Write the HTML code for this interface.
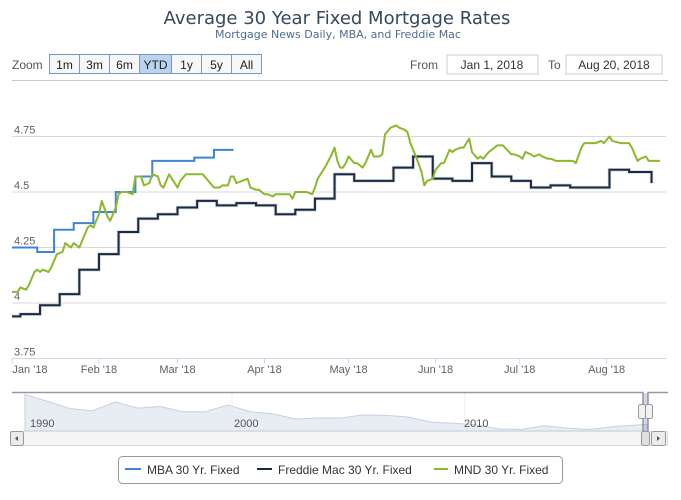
<!DOCTYPE html>
<html><head><meta charset="utf-8"><style>
body{margin:0;background:#fff;font-family:"Liberation Sans",sans-serif;}
svg text{font-family:"Liberation Sans",sans-serif;}
</style></head><body>
<svg id="c" width="681" height="495" xmlns="http://www.w3.org/2000/svg">
<rect width="681" height="495" fill="#fff"/>
<text x="337" y="24" text-anchor="middle" font-size="18" fill="#34495e" style="font-family:'DejaVu Sans',sans-serif">Average 30 Year Fixed Mortgage Rates</text>
<text x="338" y="38" text-anchor="middle" font-size="11" fill="#4d6d8d" style="font-family:'DejaVu Sans',sans-serif">Mortgage News Daily, MBA, and Freddie Mac</text>
<text x="12" y="69" font-size="12" fill="#555">Zoom</text>
<g id="btns"></g>
<text x="410" y="69" font-size="12" fill="#555">From</text>
<rect x="447" y="55" width="91" height="19" fill="#fff" stroke="#ccc"/>
<text x="492" y="69" text-anchor="middle" font-size="12" fill="#333">Jan 1, 2018</text>
<text x="548" y="69" font-size="12" fill="#555">To</text>
<rect x="566" y="55" width="96" height="19" fill="#fff" stroke="#ccc"/>
<text x="614" y="69" text-anchor="middle" font-size="12" fill="#333">Aug 20, 2018</text>
<line x1="12" y1="80.5" x2="668" y2="80.5" stroke="#ccc"/>
<g id="grid"></g>
<g id="series"></g>
<g id="nav"></g>
<g>
<rect x="118.5" y="456.5" width="444" height="27" rx="4" fill="#fff" stroke="#999"/>
<line x1="125" y1="469" x2="141" y2="469" stroke="#3d85d8" stroke-width="2"/>
<text x="147" y="474" font-size="12" fill="#333">MBA 30 Yr. Fixed</text>
<line x1="257" y1="469" x2="272" y2="469" stroke="#1a2a40" stroke-width="2"/>
<text x="278" y="474" font-size="12" fill="#333">Freddie Mac 30 Yr. Fixed</text>
<line x1="434" y1="469" x2="448" y2="469" stroke="#8cb82b" stroke-width="2"/>
<text x="454" y="474" font-size="12" fill="#333">MND 30 Yr. Fixed</text>
</g>
</svg>
<script>
const yTicks=[4.75,4.5,4.25,4,3.75];
const yTickLabels=["4.75","4.5","4.25","4","3.75"];
const monthDays=[0,31,59,90,120,151,181,212];
const monthLabels=["Jan '18","Feb '18","Mar '18","Apr '18","May '18","Jun '18","Jul '18","Aug '18"];
const mbaDays=[0,9,15,22,29,37,44,50,57,65,72,79];
const mbaValues=[4.25,4.23,4.33,4.36,4.41,4.50,4.57,4.64,4.64,4.655,4.69,4.69];
const fmDays=[0,3,10,17,24,31,38,45,52,59,66,73,80,87,94,101,108,115,122,129,136,143,150,157,164,171,178,185,192,199,206,213,220,228];
const fmValues=[3.94,3.95,3.99,4.04,4.15,4.22,4.32,4.38,4.40,4.43,4.46,4.44,4.45,4.44,4.40,4.42,4.47,4.58,4.55,4.55,4.61,4.66,4.56,4.55,4.63,4.57,4.55,4.52,4.53,4.52,4.52,4.60,4.59,4.54];
const mndDays=[0,2,3,5,6,8,9,10,11,13,14,15,16,18,19,21,22,24,25,27,28,29,31,32,34,35,37,38,39,41,43,44,46,47,49,50,52,53,54,56,57,59,60,62,64,67,68,70,72,74,75,77,78,79,80,82,84,85,87,88,90,91,93,94,96,97,99,100,101,103,105,107,108,109,110,112,114,115,116,117,118,119,120,122,123,125,126,128,129,131,132,133,135,137,138,140,141,142,143,144,146,147,148,150,151,153,154,156,157,158,160,161,163,164,166,167,168,170,172,173,175,178,179,181,182,183,185,186,188,189,191,192,194,195,198,200,201,203,204,205,208,210,211,213,214,217,219,220,221,223,224,226,227,229,231];
const mndValues=[4.05,4.05,4.07,4.06,4.08,4.14,4.15,4.14,4.15,4.14,4.16,4.19,4.22,4.23,4.27,4.25,4.27,4.25,4.28,4.34,4.35,4.34,4.40,4.46,4.39,4.37,4.43,4.49,4.50,4.50,4.49,4.57,4.57,4.53,4.54,4.58,4.57,4.53,4.52,4.58,4.56,4.52,4.55,4.58,4.58,4.58,4.58,4.55,4.52,4.52,4.53,4.53,4.57,4.57,4.54,4.55,4.56,4.52,4.51,4.51,4.49,4.49,4.48,4.49,4.49,4.49,4.49,4.47,4.50,4.50,4.50,4.49,4.52,4.56,4.58,4.62,4.67,4.70,4.64,4.61,4.61,4.63,4.66,4.63,4.63,4.61,4.63,4.69,4.66,4.66,4.67,4.76,4.79,4.80,4.79,4.78,4.77,4.72,4.69,4.66,4.59,4.53,4.55,4.56,4.60,4.63,4.63,4.69,4.68,4.69,4.70,4.70,4.74,4.68,4.65,4.66,4.65,4.68,4.70,4.71,4.71,4.67,4.67,4.66,4.65,4.68,4.67,4.66,4.67,4.66,4.65,4.65,4.64,4.64,4.64,4.64,4.63,4.70,4.72,4.72,4.72,4.73,4.72,4.75,4.73,4.72,4.72,4.72,4.70,4.64,4.65,4.66,4.64,4.64,4.64];
const navYears=[1991,1992,1993,1994,1995,1996,1997,1998,1999,2000,2001,2002,2003,2004,2005,2006,2007,2008,2009,2010,2011,2012,2013,2014,2015,2016,2017,2018.6];
const navValues=[10.3,9.0,7.6,7.2,8.9,7.7,8.0,7.0,7.0,8.3,7.0,6.6,5.6,5.8,5.8,6.4,6.3,6.0,5.0,4.8,4.5,3.7,3.6,4.3,3.9,3.6,4.1,4.6];
const navYearLabels=["1990","2000","2010"];

const NS="http://www.w3.org/2000/svg";
function el(t,a,p){const e=document.createElementNS(NS,t);for(const k in a)e.setAttribute(k,a[k]);p.appendChild(e);return e;}
const X=d=>12+d*2.805;
const Y=v=>192-(v-4.5)*222;
const grid=document.getElementById('grid');
yTicks.forEach((v,i)=>{
  const l=el('line',{x1:12,x2:666,y1:Y(v),y2:Y(v),stroke:i==4?'#ccd6eb':'#d8d8d8'},grid);
  
  
  const t=el('text',{x:14,y:Y(v)-3,'font-size':11,fill:'#606060'},grid);
  t.textContent=yTickLabels[i];
  
  
});
monthDays.forEach((d,i)=>{
  const l=el('line',{x1:X(d),x2:X(d),y1:Y(3.75),y2:Y(3.75)+5,stroke:'#ccd6eb'},grid);
  
  
  const t=el('text',{x:X(d)+(i==0?18:0),y:373,'font-size':11,fill:'#606060','text-anchor':'middle'},grid);
  t.textContent=monthLabels[i];
  
  
});
function stepPath(ds,vs){let p='M'+X(ds[0])+' '+Y(vs[0]);for(let i=1;i<ds.length;i++){p+=' L'+X(ds[i])+' '+Y(vs[i-1])+' L'+X(ds[i])+' '+Y(vs[i]);}return p;}
function linePath(ds,vs){return ds.map((d,i)=>(i?'L':'M')+X(d)+' '+Y(vs[i])).join(' ');}
const s=document.getElementById('series');
let h=el('path',{d:stepPath(fmDays,fmValues),fill:'none',stroke:'#d3d9e1','stroke-width':3.5},s);


let p=el('path',{d:stepPath(fmDays,fmValues),fill:'none',stroke:'#1a2a40','stroke-width':2},s);


p=el('path',{d:stepPath(mbaDays,mbaValues),fill:'none',stroke:'#3d85d8','stroke-width':2},s);


p=el('path',{d:linePath(mndDays,mndValues),fill:'none',stroke:'#8cb82b','stroke-width':2,'stroke-linejoin':'round'},s);



const bl=["1m","3m","6m","YTD","1y","5y","All"],bx=[49,79,109,139,171,201,231],bw=[30,30,30,32,30,30,30];
const B=document.getElementById('btns');
bl.forEach((b,i)=>{
  const r=el('rect',{x:bx[i]+0.5,y:54.5,width:bw[i],height:19,fill:i==3?'#bcd3f0':'#f7f7f7',stroke:'#7b97bd'},B);
  
  
  const t=el('text',{x:bx[i]+bw[i]/2+0.5,y:69,'font-size':12,fill:'#222','text-anchor':'middle'},B);
  t.textContent=b;
  
  
});

const N=document.getElementById('nav');
const NX=yr=>25+(yr-1991)*22.55, NY=v=>431-(v-3.3)*5.2;
let np='M'+NX(navYears[0])+' 431 '+navYears.map((y,i)=>'L'+NX(y)+' '+NY(navValues[i])).join(' ')+' L'+NX(navYears[navYears.length-1])+' 431 Z';
let a=el('path',{d:np,fill:'#e8edf4',stroke:'#c3d1e6','stroke-width':1},N);


[232,465].forEach(x=>{const g=el('line',{x1:x,x2:x,y1:392,y2:431,stroke:'#ececec'},N);

});
const nlx=[30,234,464];
navYearLabels.forEach((l,i)=>{const t=el('text',{x:nlx[i],y:427,'font-size':11,fill:'#555'},N);t.textContent=l;

});
let o=el('path',{d:'M12 392.5 L643 392.5 L643 431 M648 431 L648 392.5 L668 392.5',fill:'none',stroke:'#999','stroke-width':1.5},N);


let sel=el('rect',{x:643,y:393,width:5,height:38,fill:'rgba(102,133,194,0.3)'},N);


[638,645].forEach(x=>{const r=el('rect',{x:x+0.5,y:404.5,width:7,height:14,rx:2,fill:'#f2f2f2',stroke:'#999'},N);

});
let sb=el('rect',{x:10.5,y:431.5,width:657,height:14,fill:'#f5f5f5',stroke:'#ddd'},N);


let la=el('rect',{x:10.5,y:431.5,width:13,height:14,rx:2,fill:'#ebebeb',stroke:'#999'},N);


el('path',{d:'M18 436 L15 438.5 L18 441 Z',fill:'#555'},N);
let th=el('rect',{x:641.5,y:431.5,width:8,height:14,rx:2,fill:'#e0e0e0',stroke:'#999'},N);


let ra=el('rect',{x:651.5,y:431.5,width:14,height:14,rx:2,fill:'#ebebeb',stroke:'#999'},N);


el('path',{d:'M657 436 L660 438.5 L657 441 Z',fill:'#555'},N);
</script>
</body></html>
